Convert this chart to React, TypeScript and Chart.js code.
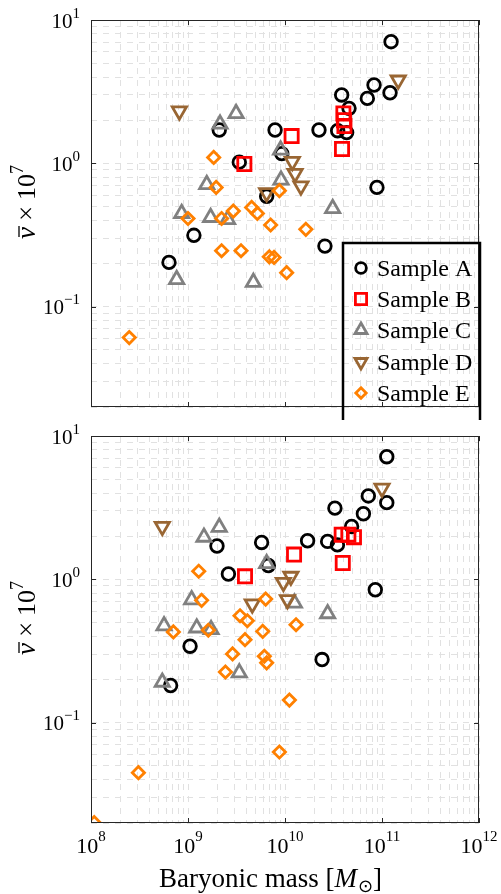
import React, { useEffect, useRef } from "react";
import { Chart, registerables } from "chart.js";
Chart.register(...registerables);

// ---------- data ----------
const seriesNames = ["Sample A", "Sample B", "Sample C", "Sample D", "Sample E"];
const seriesColors = ["#000000", "#ff0000", "#808080", "#996633", "#ff8000"];
const seriesStyles = ["circle", "rect", "triangle", "triangle", "rectRot"];
const seriesRotation = [0, 0, 0, 180, 0];
const seriesRadius = [6.3, 9.3, 8.2, 8.2, 6.1];

const xTickExps = [8, 9, 10, 11, 12];
const yTickExps = [1, 0, -1];

// top panel
const topAx = [1.24e11, 8.28e10, 7.06e10, 1.21e11, 3.84e10, 4.57e10, 3.49e10, 4.32e10, 2.24e10, 7.9e9, 2.1e9, 9.25e9, 3.38e9, 6.47e9, 8.87e10, 1.15e9, 2.58e10, 6.37e8];
const topAy = [7.06, 3.52, 2.84, 3.11, 3.0, 2.42, 1.69, 1.64, 1.71, 1.71, 1.71, 1.17, 1.02, 0.59, 0.68, 0.315, 0.265, 0.204];
const topBx = [3.81e9, 1.17e10, 4.0e10, 4.05e10, 4.1e10, 3.87e10];
const topBy = [0.99, 1.55, 2.23, 2.0, 1.82, 1.26];
const topCx = [3.13e9, 2.14e9, 9.0e9, 9.1e9, 1.56e9, 8.6e8, 1.71e9, 2.56e9, 3.1e10, 7.64e8, 4.72e9];
const topCy = [2.23, 1.88, 1.24, 0.765, 0.713, 0.448, 0.42, 0.406, 0.485, 0.155, 0.148];
const topDx = [8.15e8, 1.47e11, 1.19e10, 1.27e10, 1.46e10, 6.47e9];
const topDy = [2.32, 3.81, 1.03, 0.85, 0.695, 0.624];
const topEx = [1.84e9, 1.95e9, 8.75e9, 1.0e9, 2.22e9, 2.93e9, 4.53e9, 5.19e9, 7.11e9, 1.64e10, 2.22e9, 3.52e9, 6.89e9, 7.71e9, 1.04e10, 2.48e8];
const topEy = [1.10, 0.68, 0.645, 0.413, 0.413, 0.465, 0.493, 0.448, 0.372, 0.347, 0.246, 0.246, 0.223, 0.221, 0.173, 0.061];

// bottom panel
const botAx = [1.12e11, 7.23e10, 1.12e11, 6.43e10, 3.27e10, 4.86e10, 2.75e10, 3.47e10, 1.71e10, 5.74e9, 1.99e9, 6.73e9, 2.61e9, 8.53e10, 1.05e9, 2.41e10, 6.62e8];
const botAy = [7.17, 3.82, 3.43, 2.87, 3.14, 2.34, 1.84, 1.74, 1.86, 1.81, 1.71, 1.25, 1.09, 0.847, 0.342, 0.276, 0.182];
const botBx = [3.87e9, 1.24e10, 3.94e10, 3.84e10, 4.5e10, 5.14e10];
const botBy = [1.05, 1.49, 1.30, 2.05, 2.05, 1.97];
const botCx = [2.1e9, 1.46e9, 6.47e9, 1.09e9, 1.25e10, 2.75e10, 5.66e8, 1.23e9, 1.73e9, 3.38e9, 5.43e8];
const botCy = [2.31, 1.97, 1.29, 0.721, 0.684, 0.577, 0.475, 0.459, 0.447, 0.223, 0.192];
const botDx = [5.43e8, 1.0e11, 1.15e10, 9.62e9, 1.06e10, 4.6e9];
const botDy = [2.34, 4.32, 1.05, 0.953, 0.721, 0.673];
const botEx = [1.29e9, 1.38e9, 6.32e9, 3.44e9, 4.09e9, 1.3e10, 7.06e8, 1.62e9, 5.89e9, 3.87e9, 2.88e9, 6.12e9, 6.47e9, 2.43e9, 1.11e10, 8.75e9, 3.08e8, 1.08e8];
const botEy = [1.14, 0.714, 0.729, 0.558, 0.515, 0.483, 0.43, 0.442, 0.434, 0.380, 0.302, 0.291, 0.262, 0.226, 0.144, 0.0625, 0.0449, 0.0201];

const X_MIN = 1e8, X_MAX = 1e12, Y_MIN = 0.02, Y_MAX = 10;

const SERIF = '"Liberation Serif", "Times New Roman", serif';
const GRID_COLOR = "#e1e1e1";
const MARK_W = 2.8;

function gridValues(min: number, max: number) {
  const out: number[] = [];
  for (let e = -3; e <= 13; e++) {
    for (let m = 1; m <= 9; m++) {
      const v = parseFloat((m * Math.pow(10, e)).toPrecision(6));
      if (v >= min * 0.9999 && v <= max * 1.0001) out.push(v);
    }
  }
  return out;
}

function drawMarker(ctx: CanvasRenderingContext2D, style: string, x: number, y: number, r: number, rotDeg: number) {
  ctx.beginPath();
  const rot = (rotDeg * Math.PI) / 180;
  if (style === "circle") {
    ctx.arc(x, y, r, 0, Math.PI * 2);
  } else if (style === "rect") {
    const s = r * Math.SQRT1_2;
    ctx.rect(x - s, y - s, 2 * s, 2 * s);
  } else if (style === "triangle") {
    let a = rot;
    ctx.moveTo(x + Math.sin(a) * r, y - Math.cos(a) * r);
    a += (2 * Math.PI) / 3;
    ctx.lineTo(x + Math.sin(a) * r, y - Math.cos(a) * r);
    a += (2 * Math.PI) / 3;
    ctx.lineTo(x + Math.sin(a) * r, y - Math.cos(a) * r);
    ctx.closePath();
  } else if (style === "rectRot") {
    ctx.moveTo(x, y - r);
    ctx.lineTo(x + r, y);
    ctx.lineTo(x, y + r);
    ctx.lineTo(x - r, y);
    ctx.closePath();
  }
  ctx.stroke();
}

function drawPow(ctx: CanvasRenderingContext2D, x: number, baseY: number, exp: string, align: "right" | "center", raise: number, baseSize: number, expSize: number) {
  ctx.textAlign = "left";
  ctx.textBaseline = "alphabetic";
  ctx.font = `${baseSize}px ${SERIF}`;
  const wb = ctx.measureText("10").width;
  ctx.font = `${expSize}px ${SERIF}`;
  const we = ctx.measureText(exp).width;
  const total = wb + we;
  const start = align === "right" ? x - total : x - total / 2;
  ctx.font = `${baseSize}px ${SERIF}`;
  ctx.fillText("10", start, baseY);
  ctx.font = `${expSize}px ${SERIF}`;
  ctx.fillText(exp, start + wb, baseY - raise);
}

function expLabel(e: number) {
  return e < 0 ? "\u2212" + String(-e) : String(e);
}

function makeFramePlugin(isTop: boolean) {
  return {
    id: "frame" + (isTop ? "T" : "B"),
    afterDraw(chart: any) {
      const ctx: CanvasRenderingContext2D = chart.ctx;
      const { left, right, top, bottom } = chart.chartArea;
      const xs = chart.scales.x;
      const ys = chart.scales.y;
      ctx.save();
      // frame
      ctx.strokeStyle = "#262626";
      ctx.lineWidth = 1;
      ctx.strokeRect(Math.round(left) + 0.5, Math.round(top) + 0.5, Math.round(right - left) - 1, Math.round(bottom - top) - 1);
      // tick marks
      const TL = 5;
      ctx.beginPath();
      for (const e of xTickExps) {
        const px = Math.round(xs.getPixelForValue(Math.pow(10, e))) + 0.5;
        ctx.moveTo(px, bottom);
        ctx.lineTo(px, bottom - TL);
        ctx.moveTo(px, top);
        ctx.lineTo(px, top + TL);
      }
      for (const e of yTickExps) {
        const py = Math.round(ys.getPixelForValue(Math.pow(10, e))) + 0.5;
        ctx.moveTo(left, py);
        ctx.lineTo(left + TL, py);
        ctx.moveTo(right, py);
        ctx.lineTo(right - TL, py);
      }
      ctx.stroke();
      // y tick labels
      ctx.fillStyle = "#000";
      for (const e of yTickExps) {
        const py = ys.getPixelForValue(Math.pow(10, e));
        drawPow(ctx, 80, py + 7.5, expLabel(e), "right", 10, 21, 15);
      }
      // x tick labels (bottom only)
      if (!isTop) {
        for (const e of xTickExps) {
          const px = xs.getPixelForValue(Math.pow(10, e));
          drawPow(ctx, px, bottom + 30, expLabel(e), "center", 12, 22, 15);
        }
        // x title
        const parts: [string, string, number][] = [
          ["Baryonic mass ", `27px ${SERIF}`, 0],
          ["[", `27px ${SERIF}`, 0],
          ["M", `italic 27px ${SERIF}`, 0],
          ["\u2299", `18px "DejaVu Sans", ${SERIF}`, -5],
          ["]", `27px ${SERIF}`, 0],
        ];
        let tw = 0;
        const widths: number[] = [];
        for (const p of parts) {
          ctx.font = p[1];
          const w = ctx.measureText(p[0]).width;
          widths.push(w);
          tw += w;
        }
        let sx = 270 - tw / 2;
        const by = bottom + 64;
        ctx.textAlign = "left";
        parts.forEach((p, i) => {
          ctx.font = p[1];
          ctx.fillText(p[0], sx, by - p[2]);
          sx += widths[i] + (i === 2 ? 1 : 0);
        });
      }
      // y title
      {
        ctx.save();
        const cy = top + 182;
        ctx.translate(35, cy);
        ctx.rotate(-Math.PI / 2);
        ctx.textAlign = "left";
        const segs: [string, string, number, number][] = [
          ["\u03BD", `italic 27px ${SERIF}`, 0, 6],
          ["\u00D7", `27px ${SERIF}`, 0, 6],
          ["10", `26px ${SERIF}`, 0, 0],
          ["7", `18px ${SERIF}`, 12, 0],
        ];
        let tw = 0;
        const ws: number[] = [];
        for (const s of segs) {
          ctx.font = s[1];
          const w = ctx.measureText(s[0]).width;
          ws.push(w);
          tw += w + s[3];
        }
        let sx = -tw / 2;
        segs.forEach((s, i) => {
          ctx.font = s[1];
          ctx.fillText(s[0], sx, -s[2]);
          if (i === 0) {
            ctx.beginPath();
            ctx.lineWidth = 1.3;
            ctx.strokeStyle = "#000";
            ctx.moveTo(sx + 2, -16);
            ctx.lineTo(sx + ws[0] + 1, -16);
            ctx.stroke();
          }
          sx += ws[i] + s[3];
        });
        ctx.restore();
      }
      // legend (top only)
      if (isTop) {
        ctx.strokeStyle = "#000";
        ctx.lineWidth = 2.5;
        ctx.strokeRect(343, 243, 137, 200);
        const rows = [268, 299, 330, 362, 393];
        seriesNames.forEach((name, i) => {
          ctx.strokeStyle = seriesColors[i];
          ctx.lineWidth = MARK_W;
          drawMarker(ctx, seriesStyles[i], 361, rows[i], seriesRadius[i] * 0.85, seriesRotation[i]);
          ctx.fillStyle = "#000";
          ctx.font = `24px ${SERIF}`;
          ctx.textAlign = "left";
          ctx.fillText(name, 377, rows[i] + 8);
        });
      }
      ctx.restore();
    },
  };
}

function makeConfig(xsArr: number[][], ysArr: number[][], isTop: boolean, padding: any): any {
  const datasets = seriesNames.map((name, i) => ({
    label: name,
    data: xsArr[i].map((x, j) => ({ x, y: ysArr[i][j] })),
    pointStyle: seriesStyles[i],
    pointRotation: seriesRotation[i],
    pointRadius: seriesRadius[i],
    pointHoverRadius: seriesRadius[i],
    pointBorderWidth: MARK_W,
    pointBorderColor: seriesColors[i],
    pointBackgroundColor: "rgba(0,0,0,0)",
    borderColor: seriesColors[i],
    backgroundColor: "rgba(0,0,0,0)",
    showLine: false,
    order: 5 - i,
    clip: 0,
  }));
  const xGrid = gridValues(X_MIN, X_MAX);
  const yGrid = gridValues(Y_MIN, Y_MAX);
  return {
    type: "scatter",
    data: { datasets },
    options: {
      animation: false,
      responsive: false,
      maintainAspectRatio: false,
      devicePixelRatio: 1,
      events: [],
      layout: { padding },
      plugins: { legend: { display: false }, tooltip: { enabled: false } },
      scales: {
        x: {
          type: "logarithmic",
          min: X_MIN,
          max: X_MAX,
          ticks: { display: false },
          grid: { color: GRID_COLOR, lineWidth: 1, drawTicks: false, tickLength: 0 },
          border: { display: false, dash: [6, 6] },
          afterBuildTicks: (s: any) => {
            s.ticks = xGrid.map((v) => ({ value: v }));
          },
          afterFit: (s: any) => {
            s.height = 0;
          },
        },
        y: {
          type: "logarithmic",
          min: Y_MIN,
          max: Y_MAX,
          ticks: { display: false },
          grid: { color: GRID_COLOR, lineWidth: 1, drawTicks: false, tickLength: 0 },
          border: { display: false, dash: [6, 6] },
          afterBuildTicks: (s: any) => {
            s.ticks = yGrid.map((v) => ({ value: v }));
          },
          afterFit: (s: any) => {
            s.width = 0;
          },
        },
      },
    },
    plugins: [makeFramePlugin(isTop)],
  };
}

export default function App() {
  const topRef = useRef<HTMLCanvasElement>(null);
  const botRef = useRef<HTMLCanvasElement>(null);
  useEffect(() => {
    const c1 = new Chart(
      topRef.current as HTMLCanvasElement,
      makeConfig(
        [topAx, topBx, topCx, topDx, topEx],
        [topAy, topBy, topCy, topDy, topEy],
        true,
        { left: 91, right: 22, top: 20, bottom: 13 }
      )
    );
    const c2 = new Chart(
      botRef.current as HTMLCanvasElement,
      makeConfig(
        [botAx, botBx, botCx, botDx, botEx],
        [botAy, botBy, botCy, botDy, botEy],
        false,
        { left: 91, right: 22, top: 16, bottom: 71 }
      )
    );
    return () => {
      c1.destroy();
      c2.destroy();
    };
  }, []);
  return (
    <div style={{ position: "absolute", left: 0, top: 0, width: 501, height: 894, background: "#fff" }}>
      <canvas ref={topRef} width={501} height={420} style={{ position: "absolute", left: 0, top: 0, width: 501, height: 420 }} />
      <canvas ref={botRef} width={501} height={474} style={{ position: "absolute", left: 0, top: 420, width: 501, height: 474 }} />
    </div>
  );
}
